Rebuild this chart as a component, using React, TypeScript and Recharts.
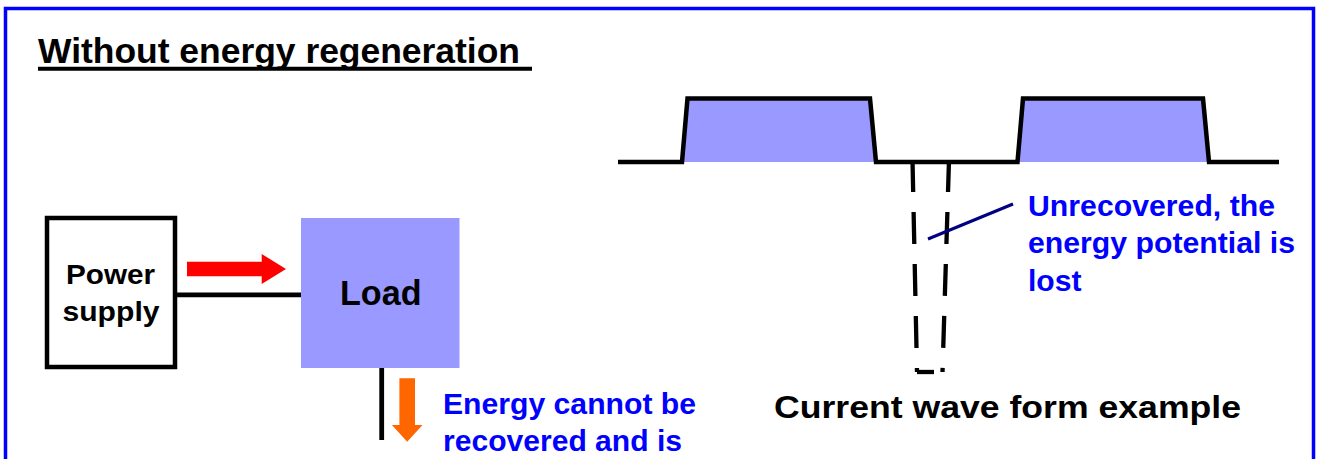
import React from 'react';
import { ComposedChart, XAxis, YAxis, Line, Area, ReferenceArea, ReferenceLine, ReferenceDot } from 'recharts';

const WIDTH = 1321;
const HEIGHT = 459;

// current waveform: x along the trace, y = level (page units, 162 = zero line)
const pulseTrain = [
  { x: 618, y: 162 },
  { x: 682, y: 162 },
  { x: 687.5, y: 98.5 },
  { x: 870, y: 98.5 },
  { x: 876, y: 162 },
  { x: 1017.5, y: 162 },
  { x: 1023, y: 98.5 },
  { x: 1203, y: 98.5 },
  { x: 1209, y: 162 },
  { x: 1279, y: 162 },
];
const ZERO_LEVEL = 162;

// regenerative pulse that is lost (dashed, drawn side by side)
const lostPulse = [
  { x: 912.5, y: 160 },
  { x: 917, y: 372 },
  { x: 942.5, y: 372 },
  { x: 949, y: 160 },
];
const lostDash = ['32 20', '17 20', '32 20'];

const leaderLine = [
  { x: 928, y: 239 },
  { x: 1013, y: 204 },
];

// block diagram pieces
const supplyBox = { x1: 47, x2: 175, y1: 218, y2: 367 };
const loadBox = { x1: 301, x2: 459.5, y1: 218, y2: 368 };
const frame = { x1: 5.5, x2: 1313.5, y1: 8.5, y2: 480 };

const wires = [
  [{ x: 176, y: 294.8 }, { x: 301, y: 294.8 }],
  [{ x: 381.7, y: 368 }, { x: 381.7, y: 440 }],
];
const titleRule = [{ x: 38, y: 68.8 }, { x: 532, y: 68.8 }];

const supplyArrow = [{ x: 187, y: 269 }, { x: 286, y: 269 }];
const lossArrow = [{ x: 407.2, y: 378.3 }, { x: 407.2, y: 441.7 }];

// text
const titleText = 'Without energy regeneration';
const supplyLines = ['Power', 'supply'];
const loadText = 'Load';
const lossLines = ['Energy cannot be', 'recovered and is'];
const lostLines = ['Unrecovered, the', 'energy potential is', 'lost'];
const captionText = 'Current wave form example';

const FONT = '"Liberation Sans", Arial, sans-serif';

type Placed = { text: string; x: number; y: number; w: number; size: number; color: string };

const placed: Placed[] = [
  { text: titleText, x: 38, y: 62.5, w: 482, size: 34.5, color: '#000' },
  { text: supplyLines[0], x: 66, y: 284, w: 89, size: 28.5, color: '#000' },
  { text: supplyLines[1], x: 62.5, y: 321, w: 97, size: 28.5, color: '#000' },
  { text: loadText, x: 340, y: 305, w: 81.5, size: 35, color: '#000' },
  { text: lossLines[0], x: 443, y: 413.5, w: 253, size: 29.5, color: '#0000FF' },
  { text: lossLines[1], x: 443, y: 451, w: 239, size: 29.5, color: '#0000FF' },
  { text: lostLines[0], x: 1028, y: 215.5, w: 247, size: 29.5, color: '#0000FF' },
  { text: lostLines[1], x: 1028, y: 253, w: 267, size: 29.5, color: '#0000FF' },
  { text: lostLines[2], x: 1028, y: 290.8, w: 53.5, size: 29.5, color: '#0000FF' },
  { text: captionText, x: 774, y: 418, w: 467, size: 31.5, color: '#000' },
];

const arrowShape = (fill: string, shaft: number, head: number, headLen: number) => (props: any) => {
  const { x1, y1, x2, y2 } = props;
  const dx = x2 - x1;
  const dy = y2 - y1;
  const len = Math.hypot(dx, dy) || 1;
  const ux = dx / len;
  const uy = dy / len;
  const nx = -uy;
  const ny = ux;
  const bx = x2 - ux * headLen;
  const by = y2 - uy * headLen;
  const pts = [
    [x1 + nx * shaft, y1 + ny * shaft],
    [bx + nx * shaft, by + ny * shaft],
    [bx + nx * head, by + ny * head],
    [x2, y2],
    [bx - nx * head, by - ny * head],
    [bx - nx * shaft, by - ny * shaft],
    [x1 - nx * shaft, y1 - ny * shaft],
  ];
  return <polygon points={pts.map((p) => p.join(',')).join(' ')} fill={fill} />;
};

const textShape = (t: Placed) => (props: any) => (
  <text
    x={props.cx}
    y={props.cy}
    fontFamily={FONT}
    fontWeight="bold"
    fontSize={t.size}
    fill={t.color}
    textLength={t.w}
    lengthAdjust="spacingAndGlyphs"
  >
    {t.text}
  </text>
);

export default function App() {
  return (
    <div style={{ width: WIDTH, height: HEIGHT, background: '#fff' }}>
      <style>{'body{margin:0}'}</style>
      <ComposedChart width={WIDTH} height={HEIGHT} margin={{ top: 0, right: 0, bottom: 0, left: 0 }}>
        <XAxis type="number" dataKey="x" domain={[0, WIDTH]} hide allowDataOverflow />
        <YAxis type="number" dataKey="y" domain={[0, HEIGHT]} reversed hide allowDataOverflow />

        <ReferenceArea {...frame} fill="none" stroke="#0000FF" strokeWidth={3.5} ifOverflow="visible" />

        <ReferenceArea {...supplyBox} fill="#fff" fillOpacity={1} stroke="#000" strokeWidth={4.5} ifOverflow="visible" />
        <ReferenceArea {...loadBox} fill="#9999FF" fillOpacity={1} stroke="none" ifOverflow="visible" />

        {wires.map((seg, i) => (
          <ReferenceLine key={i} segment={seg} stroke="#000" strokeWidth={4.8} ifOverflow="visible" />
        ))}
        <ReferenceLine segment={titleRule} stroke="#000" strokeWidth={4} ifOverflow="visible" />

        <ReferenceLine segment={supplyArrow} ifOverflow="visible" shape={arrowShape('#FF0000', 7.2, 15, 24.3)} />
        <ReferenceLine segment={lossArrow} ifOverflow="visible" shape={arrowShape('#FF6600', 7.8, 15.3, 16.7)} />

        <Area
          data={pulseTrain}
          dataKey="y"
          type="linear"
          baseValue={ZERO_LEVEL}
          fill="#9999FF"
          fillOpacity={1}
          stroke="#000"
          strokeWidth={4.5}
          strokeLinejoin="miter"
          dot={false}
          activeDot={false}
          isAnimationActive={false}
        />
        {lostDash.map((dash, i) => (
          <Line
            key={i}
            data={i === 2 ? [lostPulse[3], lostPulse[2]] : [lostPulse[i], lostPulse[i + 1]]}
            dataKey="y"
            type="linear"
            stroke="#000"
            strokeWidth={4.3}
            strokeDasharray={dash}
            dot={false}
            activeDot={false}
            isAnimationActive={false}
          />
        ))}
        <Line
          data={leaderLine}
          dataKey="y"
          type="linear"
          stroke="#000080"
          strokeWidth={3}
          dot={false}
          activeDot={false}
          isAnimationActive={false}
        />

        {placed.map((t, i) => (
          <ReferenceDot key={i} x={t.x} y={t.y} r={0} ifOverflow="visible" shape={textShape(t)} />
        ))}
      </ComposedChart>
    </div>
  );
}
